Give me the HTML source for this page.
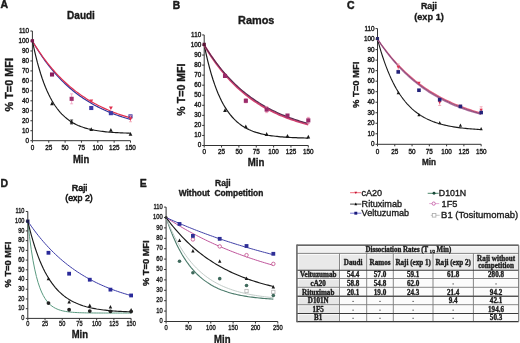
<!DOCTYPE html><html><head><meta charset="utf-8"><style>html,body{margin:0;padding:0;background:#fff;}svg{display:block;filter:blur(0.4px);}text{stroke:#1a1a1a;stroke-linejoin:round;}svg{font-family:"Liberation Sans", sans-serif;}</style></head><body>
<svg width="520" height="343" viewBox="0 0 520 343" stroke-width="0.35">
<rect width="520" height="343" fill="#fff"/>
<text transform="translate(0.5 8.3) scale(0.95 1)" font-size="11" font-weight="bold" text-anchor="start" fill="#1a1a1a" stroke-width="0.5">A</text>
<text transform="translate(172.8 8.5) scale(0.93 1)" font-size="11" font-weight="bold" text-anchor="start" fill="#1a1a1a" stroke-width="0.5">B</text>
<text transform="translate(347 8.5) scale(0.95 1)" font-size="11" font-weight="bold" text-anchor="start" fill="#1a1a1a" stroke-width="0.5">C</text>
<text x="0.4" y="186.8" font-size="10.5" font-weight="bold" text-anchor="start" fill="#1a1a1a">D</text>
<text x="139.7" y="186.8" font-size="10.5" font-weight="bold" text-anchor="start" fill="#1a1a1a">E</text>
<text x="81" y="18.6" font-size="10" font-weight="bold" text-anchor="middle" fill="#1a1a1a">Daudi</text>
<text transform="translate(13.3 84.75) rotate(-90) scale(1.065 1)" font-size="10.2" font-weight="bold" text-anchor="middle" fill="#1a1a1a">% T=0 MFI</text>
<text transform="translate(81.1 162.5) scale(0.91 1)" font-size="10.4" font-weight="bold" text-anchor="middle" fill="#1a1a1a">Min</text>
<path d="M32.4 31.03V140.7M32.4 140.7H130.5M30.4 140.7H32.4M30.4 130.73H32.4M30.4 120.76H32.4M30.4 110.79H32.4M30.4 100.82H32.4M30.4 90.85H32.4M30.4 80.88H32.4M30.4 70.91H32.4M30.4 60.94H32.4M30.4 50.97H32.4M30.4 41H32.4M30.4 31.03H32.4M32.4 140.7V142.7M48.75 140.7V142.7M65.1 140.7V142.7M81.45 140.7V142.7M97.8 140.7V142.7M114.15 140.7V142.7M130.5 140.7V142.7" stroke="#333" stroke-width="1" fill="none"/>
<text transform="translate(29.1 142.64) scale(0.88 1)" font-size="7.2" font-weight="normal" text-anchor="end" fill="#2a2a2a" stroke-width="0.42">0</text>
<text transform="translate(29.1 132.67) scale(0.88 1)" font-size="7.2" font-weight="normal" text-anchor="end" fill="#2a2a2a" stroke-width="0.42">10</text>
<text transform="translate(29.1 122.7) scale(0.88 1)" font-size="7.2" font-weight="normal" text-anchor="end" fill="#2a2a2a" stroke-width="0.42">20</text>
<text transform="translate(29.1 112.73) scale(0.88 1)" font-size="7.2" font-weight="normal" text-anchor="end" fill="#2a2a2a" stroke-width="0.42">30</text>
<text transform="translate(29.1 102.76) scale(0.88 1)" font-size="7.2" font-weight="normal" text-anchor="end" fill="#2a2a2a" stroke-width="0.42">40</text>
<text transform="translate(29.1 92.79) scale(0.88 1)" font-size="7.2" font-weight="normal" text-anchor="end" fill="#2a2a2a" stroke-width="0.42">50</text>
<text transform="translate(29.1 82.82) scale(0.88 1)" font-size="7.2" font-weight="normal" text-anchor="end" fill="#2a2a2a" stroke-width="0.42">60</text>
<text transform="translate(29.1 72.85) scale(0.88 1)" font-size="7.2" font-weight="normal" text-anchor="end" fill="#2a2a2a" stroke-width="0.42">70</text>
<text transform="translate(29.1 62.88) scale(0.88 1)" font-size="7.2" font-weight="normal" text-anchor="end" fill="#2a2a2a" stroke-width="0.42">80</text>
<text transform="translate(29.1 52.91) scale(0.88 1)" font-size="7.2" font-weight="normal" text-anchor="end" fill="#2a2a2a" stroke-width="0.42">90</text>
<text transform="translate(29.1 42.94) scale(0.88 1)" font-size="7.2" font-weight="normal" text-anchor="end" fill="#2a2a2a" stroke-width="0.42">100</text>
<text transform="translate(29.1 32.97) scale(0.88 1)" font-size="7.2" font-weight="normal" text-anchor="end" fill="#2a2a2a" stroke-width="0.42">110</text>
<text transform="translate(32.4 149.9) scale(0.88 1)" font-size="7.2" font-weight="normal" text-anchor="middle" fill="#2a2a2a" stroke-width="0.42">0</text>
<text transform="translate(48.75 149.9) scale(0.88 1)" font-size="7.2" font-weight="normal" text-anchor="middle" fill="#2a2a2a" stroke-width="0.42">25</text>
<text transform="translate(65.1 149.9) scale(0.88 1)" font-size="7.2" font-weight="normal" text-anchor="middle" fill="#2a2a2a" stroke-width="0.42">50</text>
<text transform="translate(81.45 149.9) scale(0.88 1)" font-size="7.2" font-weight="normal" text-anchor="middle" fill="#2a2a2a" stroke-width="0.42">75</text>
<text transform="translate(97.8 149.9) scale(0.88 1)" font-size="7.2" font-weight="normal" text-anchor="middle" fill="#2a2a2a" stroke-width="0.42">100</text>
<text transform="translate(114.15 149.9) scale(0.88 1)" font-size="7.2" font-weight="normal" text-anchor="middle" fill="#2a2a2a" stroke-width="0.42">125</text>
<text transform="translate(130.5 149.9) scale(0.88 1)" font-size="7.2" font-weight="normal" text-anchor="middle" fill="#2a2a2a" stroke-width="0.42">150</text>
<path d="M32.4 41L34.03 43.82L35.67 46.55L37.3 49.19L38.94 51.76L40.58 54.25L42.21 56.67L43.84 59.01L45.48 61.28L47.11 63.49L48.75 65.62L50.38 67.69L52.02 69.7L53.66 71.65L55.29 73.54L56.92 75.37L58.56 77.15L60.2 78.88L61.83 80.55L63.47 82.17L65.1 83.74L66.73 85.27L68.37 86.74L70 88.18L71.64 89.57L73.28 90.92L74.91 92.23L76.55 93.49L78.18 94.72L79.81 95.92L81.45 97.07L83.09 98.2L84.72 99.28L86.36 100.34L87.99 101.36L89.62 102.35L91.26 103.32L92.9 104.25L94.53 105.16L96.16 106.03L97.8 106.89L99.44 107.71L101.07 108.51L102.71 109.29L104.34 110.04L105.97 110.77L107.61 111.48L109.25 112.17L110.88 112.83L112.52 113.48L114.15 114.1L115.78 114.71L117.42 115.3L119.06 115.87L120.69 116.43L122.32 116.96L123.96 117.49L125.59 117.99L127.23 118.48L128.87 118.96L130.5 119.42" stroke="#34349a" stroke-width="1.2" fill="none"/>
<path d="M32.4 41L34.03 43.69L35.67 46.31L37.3 48.85L38.94 51.31L40.58 53.7L42.21 56.03L43.84 58.28L45.48 60.47L47.11 62.6L48.75 64.67L50.38 66.67L52.02 68.62L53.66 70.51L55.29 72.35L56.92 74.13L58.56 75.86L60.2 77.54L61.83 79.17L63.47 80.75L65.1 82.29L66.73 83.79L68.37 85.24L70 86.64L71.64 88.01L73.28 89.34L74.91 90.63L76.55 91.88L78.18 93.09L79.81 94.27L81.45 95.42L83.09 96.53L84.72 97.61L86.36 98.66L87.99 99.68L89.62 100.67L91.26 101.63L92.9 102.56L94.53 103.46L96.16 104.34L97.8 105.2L99.44 106.02L101.07 106.83L102.71 107.61L104.34 108.37L105.97 109.1L107.61 109.82L109.25 110.51L110.88 111.19L112.52 111.84L114.15 112.48L115.78 113.09L117.42 113.69L119.06 114.27L120.69 114.84L122.32 115.39L123.96 115.92L125.59 116.44L127.23 116.94L128.87 117.43L130.5 117.9" stroke="#e0304e" stroke-width="1.2" fill="none"/>
<path d="M32.4 41L34.03 48.66L35.67 55.68L37.3 62.13L38.94 68.04L40.58 73.47L42.21 78.45L43.84 83.01L45.48 87.2L47.11 91.04L48.75 94.57L50.38 97.8L52.02 100.77L53.66 103.49L55.29 105.99L56.92 108.28L58.56 110.38L60.2 112.31L61.83 114.08L63.47 115.7L65.1 117.19L66.73 118.55L68.37 119.81L70 120.96L71.64 122.01L73.28 122.98L74.91 123.87L76.55 124.68L78.18 125.43L79.81 126.11L81.45 126.74L83.09 127.32L84.72 127.85L86.36 128.33L87.99 128.78L89.62 129.18L91.26 129.56L92.9 129.9L94.53 130.22L96.16 130.51L97.8 130.77L99.44 131.02L101.07 131.24L102.71 131.44L104.34 131.63L105.97 131.81L107.61 131.96L109.25 132.11L110.88 132.24L112.52 132.36L114.15 132.48L115.78 132.58L117.42 132.67L119.06 132.76L120.69 132.84L122.32 132.91L123.96 132.98L125.59 133.04L127.23 133.1L128.87 133.15L130.5 133.2" stroke="#1a1a1a" stroke-width="1.15" fill="none"/>
<rect x="89.21" y="105.95" width="4.1" height="4.1" fill="#3c3ca8"/>
<rect x="108.83" y="111.13" width="4.1" height="4.1" fill="#3c3ca8"/>
<rect x="128.45" y="114.32" width="4.1" height="4.1" fill="#3c3ca8"/>
<path d="M91.26 102.77L89.31 99.38L93.21 99.38Z" fill="#e0304e"/>
<path d="M110.88 109.95L108.93 106.56L112.83 106.56Z" fill="#e0304e"/>
<path d="M130.5 115.77V121.76M129 115.77H132M129 121.76H132" stroke="#f0a0b0" stroke-width="0.8" fill="none"/>
<path d="M130.5 120.71L128.55 117.33L132.45 117.33Z" fill="#e0304e"/>
<rect x="49.97" y="72.45" width="4.1" height="4.1" fill="#8a1f5e"/>
<path d="M71.64 93.84V103.81M70.14 93.84H73.14M70.14 103.81H73.14" stroke="#f0a0c0" stroke-width="0.8" fill="none"/>
<rect x="69.59" y="96.78" width="4.1" height="4.1" fill="#a0306e"/>
<path d="M52.02 101.36L50.13 105.15L53.91 105.15Z" fill="#1a1a1a"/>
<path d="M71.64 119.96V123.95M70.14 119.96H73.14M70.14 123.95H73.14" stroke="#1a1a1a" stroke-width="0.8" fill="none"/>
<path d="M71.64 119.8L69.75 123.6L73.53 123.6Z" fill="#1a1a1a"/>
<path d="M91.26 127.18L89.37 130.97L93.15 130.97Z" fill="#1a1a1a"/>
<path d="M110.88 128.08L108.99 131.87L112.77 131.87Z" fill="#1a1a1a"/>
<path d="M130.5 132.07L128.61 135.86L132.39 135.86Z" fill="#1a1a1a"/>
<rect x="30.75" y="39.15" width="3.3" height="3.3" fill="#7a1a4e"/>
<text x="256.2" y="23.5" font-size="10.9" font-weight="bold" text-anchor="middle" fill="#1a1a1a">Ramos</text>
<text transform="translate(185.1 89.6) rotate(-90) scale(1.06 1)" font-size="10.0" font-weight="bold" text-anchor="middle" fill="#1a1a1a">% T=0 MFI</text>
<text transform="translate(256 166.2) scale(0.93 1)" font-size="10.4" font-weight="bold" text-anchor="middle" fill="#1a1a1a">Min</text>
<path d="M204.2 34.95V145.5M204.2 145.5H308.3M202.2 145.5H204.2M202.2 135.45H204.2M202.2 125.4H204.2M202.2 115.35H204.2M202.2 105.3H204.2M202.2 95.25H204.2M202.2 85.2H204.2M202.2 75.15H204.2M202.2 65.1H204.2M202.2 55.05H204.2M202.2 45H204.2M202.2 34.95H204.2M204.2 145.5V147.5M221.55 145.5V147.5M238.9 145.5V147.5M256.25 145.5V147.5M273.6 145.5V147.5M290.95 145.5V147.5M308.3 145.5V147.5" stroke="#333" stroke-width="1" fill="none"/>
<text transform="translate(201.2 147.44) scale(0.88 1)" font-size="7.2" font-weight="normal" text-anchor="end" fill="#2a2a2a" stroke-width="0.42">0</text>
<text transform="translate(201.2 137.39) scale(0.88 1)" font-size="7.2" font-weight="normal" text-anchor="end" fill="#2a2a2a" stroke-width="0.42">10</text>
<text transform="translate(201.2 127.34) scale(0.88 1)" font-size="7.2" font-weight="normal" text-anchor="end" fill="#2a2a2a" stroke-width="0.42">20</text>
<text transform="translate(201.2 117.29) scale(0.88 1)" font-size="7.2" font-weight="normal" text-anchor="end" fill="#2a2a2a" stroke-width="0.42">30</text>
<text transform="translate(201.2 107.24) scale(0.88 1)" font-size="7.2" font-weight="normal" text-anchor="end" fill="#2a2a2a" stroke-width="0.42">40</text>
<text transform="translate(201.2 97.19) scale(0.88 1)" font-size="7.2" font-weight="normal" text-anchor="end" fill="#2a2a2a" stroke-width="0.42">50</text>
<text transform="translate(201.2 87.14) scale(0.88 1)" font-size="7.2" font-weight="normal" text-anchor="end" fill="#2a2a2a" stroke-width="0.42">60</text>
<text transform="translate(201.2 77.09) scale(0.88 1)" font-size="7.2" font-weight="normal" text-anchor="end" fill="#2a2a2a" stroke-width="0.42">70</text>
<text transform="translate(201.2 67.04) scale(0.88 1)" font-size="7.2" font-weight="normal" text-anchor="end" fill="#2a2a2a" stroke-width="0.42">80</text>
<text transform="translate(201.2 56.99) scale(0.88 1)" font-size="7.2" font-weight="normal" text-anchor="end" fill="#2a2a2a" stroke-width="0.42">90</text>
<text transform="translate(201.2 46.94) scale(0.88 1)" font-size="7.2" font-weight="normal" text-anchor="end" fill="#2a2a2a" stroke-width="0.42">100</text>
<text transform="translate(201.2 36.89) scale(0.88 1)" font-size="7.2" font-weight="normal" text-anchor="end" fill="#2a2a2a" stroke-width="0.42">110</text>
<text transform="translate(204.2 153.8) scale(0.88 1)" font-size="7.2" font-weight="normal" text-anchor="middle" fill="#2a2a2a" stroke-width="0.42">0</text>
<text transform="translate(221.55 153.8) scale(0.88 1)" font-size="7.2" font-weight="normal" text-anchor="middle" fill="#2a2a2a" stroke-width="0.42">25</text>
<text transform="translate(238.9 153.8) scale(0.88 1)" font-size="7.2" font-weight="normal" text-anchor="middle" fill="#2a2a2a" stroke-width="0.42">50</text>
<text transform="translate(256.25 153.8) scale(0.88 1)" font-size="7.2" font-weight="normal" text-anchor="middle" fill="#2a2a2a" stroke-width="0.42">75</text>
<text transform="translate(273.6 153.8) scale(0.88 1)" font-size="7.2" font-weight="normal" text-anchor="middle" fill="#2a2a2a" stroke-width="0.42">100</text>
<text transform="translate(290.95 153.8) scale(0.88 1)" font-size="7.2" font-weight="normal" text-anchor="middle" fill="#2a2a2a" stroke-width="0.42">125</text>
<text transform="translate(308.3 153.8) scale(0.88 1)" font-size="7.2" font-weight="normal" text-anchor="middle" fill="#2a2a2a" stroke-width="0.42">150</text>
<path d="M204.2 45L205.94 53.15L207.67 60.58L209.41 67.37L211.14 73.57L212.88 79.23L214.61 84.39L216.34 89.1L218.08 93.41L219.81 97.33L221.55 100.92L223.28 104.19L225.02 107.18L226.75 109.91L228.49 112.4L230.22 114.67L231.96 116.74L233.69 118.64L235.43 120.36L237.16 121.94L238.9 123.38L240.63 124.7L242.37 125.9L244.1 126.99L245.84 127.99L247.57 128.91L249.31 129.74L251.04 130.5L252.78 131.19L254.51 131.83L256.25 132.41L257.99 132.93L259.72 133.42L261.45 133.86L263.19 134.26L264.92 134.63L266.66 134.96L268.39 135.27L270.13 135.54L271.87 135.8L273.6 136.03L275.33 136.24L277.07 136.44L278.8 136.61L280.54 136.78L282.27 136.92L284.01 137.06L285.75 137.18L287.48 137.29L289.21 137.39L290.95 137.49L292.69 137.57L294.42 137.65L296.15 137.72L297.89 137.79L299.62 137.85L301.36 137.9L303.09 137.95L304.83 137.99L306.56 138.03L308.3 138.07" stroke="#1a1a1a" stroke-width="1.2" fill="none"/>
<path d="M204.2 45L205.94 47.91L207.67 50.73L209.41 53.46L211.14 56.1L212.88 58.67L214.61 61.15L216.34 63.56L218.08 65.89L219.81 68.15L221.55 70.34L223.28 72.46L225.02 74.51L226.75 76.5L228.49 78.43L230.22 80.3L231.96 82.11L233.69 83.87L235.43 85.57L237.16 87.21L238.9 88.81L240.63 90.35L242.37 91.85L244.1 93.3L245.84 94.71L247.57 96.07L249.31 97.39L251.04 98.67L252.78 99.91L254.51 101.11L256.25 102.27L257.99 103.4L259.72 104.49L261.45 105.55L263.19 106.57L264.92 107.56L266.66 108.52L268.39 109.46L270.13 110.36L271.87 111.23L273.6 112.08L275.33 112.9L277.07 113.7L278.8 114.47L280.54 115.22L282.27 115.94L284.01 116.64L285.75 117.32L287.48 117.98L289.21 118.62L290.95 119.23L292.69 119.83L294.42 120.41L296.15 120.97L297.89 121.52L299.62 122.05L301.36 122.56L303.09 123.05L304.83 123.53L306.56 124L308.3 124.45" stroke="#d04070" stroke-width="2.0" fill="none"/>
<path d="M204.2 45L205.94 47.8L207.67 50.51L209.41 53.15L211.14 55.7L212.88 58.18L214.61 60.58L216.34 62.92L218.08 65.18L219.81 67.37L221.55 69.5L223.28 71.57L225.02 73.57L226.75 75.51L228.49 77.4L230.22 79.23L231.96 81L233.69 82.72L235.43 84.39L237.16 86.01L238.9 87.58L240.63 89.1L242.37 90.58L244.1 92.02L245.84 93.41L247.57 94.76L249.31 96.06L251.04 97.33L252.78 98.57L254.51 99.76L256.25 100.92L257.99 102.04L259.72 103.13L261.45 104.19L263.19 105.22L264.92 106.21L266.66 107.18L268.39 108.12L270.13 109.03L271.87 109.91L273.6 110.76L275.33 111.59L277.07 112.4L278.8 113.18L280.54 113.93L282.27 114.67L284.01 115.38L285.75 116.07L287.48 116.74L289.21 117.39L290.95 118.02L292.69 118.64L294.42 119.23L296.15 119.81L297.89 120.36L299.62 120.91L301.36 121.43L303.09 121.94L304.83 122.44L306.56 122.92L308.3 123.38" stroke="#5a2a50" stroke-width="1.1" fill="none"/>
<path d="M225.02 108.17L223.13 111.97L226.91 111.97Z" fill="#1a1a1a"/>
<path d="M245.84 124.45L243.95 128.25L247.73 128.25Z" fill="#1a1a1a"/>
<path d="M266.66 132.09L264.77 135.88L268.55 135.88Z" fill="#1a1a1a"/>
<path d="M287.48 133.9L285.59 137.69L289.37 137.69Z" fill="#1a1a1a"/>
<path d="M308.3 134.81L306.41 138.6L310.19 138.6Z" fill="#1a1a1a"/>
<rect x="222.97" y="73.9" width="4.1" height="4.1" fill="#9a2a6a"/>
<path d="M245.84 98.77V102.79M244.34 98.77H247.34M244.34 102.79H247.34" stroke="#f090b0" stroke-width="0.8" fill="none"/>
<rect x="243.79" y="98.73" width="4.1" height="4.1" fill="#9a2a6a"/>
<path d="M266.66 106.61V112.64M265.16 106.61H268.16M265.16 112.64H268.16" stroke="#f090b0" stroke-width="0.8" fill="none"/>
<rect x="264.61" y="107.57" width="4.1" height="4.1" fill="#9a2a6a"/>
<rect x="285.43" y="113.5" width="4.1" height="4.1" fill="#9a2a6a"/>
<path d="M308.3 117.36V123.39M306.8 117.36H309.8M306.8 123.39H309.8" stroke="#f090b0" stroke-width="0.8" fill="none"/>
<rect x="306.25" y="118.33" width="4.1" height="4.1" fill="#9a2a6a"/>
<rect x="202.55" y="42.75" width="3.3" height="3.3" fill="#5a1536"/>
<text x="429" y="8.7" font-size="8.8" font-weight="bold" text-anchor="middle" fill="#1a1a1a">Raji</text>
<text x="429" y="19.9" font-size="9.2" font-weight="bold" text-anchor="middle" fill="#1a1a1a">(exp 1)</text>
<text transform="translate(358.9 84.85) rotate(-90) scale(1.03 1)" font-size="9.2" font-weight="bold" text-anchor="middle" fill="#1a1a1a">% T=0 MFI</text>
<text transform="translate(429 165) scale(0.92 1)" font-size="8.9" font-weight="bold" text-anchor="middle" fill="#1a1a1a">Min</text>
<path d="M377.5 28.58V144.3M377.5 144.3H481.15M375.5 144.3H377.5M375.5 133.78H377.5M375.5 123.26H377.5M375.5 112.74H377.5M375.5 102.22H377.5M375.5 91.7H377.5M375.5 81.18H377.5M375.5 70.66H377.5M375.5 60.14H377.5M375.5 49.62H377.5M375.5 39.1H377.5M375.5 28.58H377.5M377.5 144.3V146.3M394.77 144.3V146.3M412.05 144.3V146.3M429.32 144.3V146.3M446.6 144.3V146.3M463.88 144.3V146.3M481.15 144.3V146.3" stroke="#333" stroke-width="1" fill="none"/>
<text transform="translate(374.5 146.24) scale(0.88 1)" font-size="7.2" font-weight="normal" text-anchor="end" fill="#2a2a2a" stroke-width="0.42">0</text>
<text transform="translate(374.5 135.72) scale(0.88 1)" font-size="7.2" font-weight="normal" text-anchor="end" fill="#2a2a2a" stroke-width="0.42">10</text>
<text transform="translate(374.5 125.2) scale(0.88 1)" font-size="7.2" font-weight="normal" text-anchor="end" fill="#2a2a2a" stroke-width="0.42">20</text>
<text transform="translate(374.5 114.68) scale(0.88 1)" font-size="7.2" font-weight="normal" text-anchor="end" fill="#2a2a2a" stroke-width="0.42">30</text>
<text transform="translate(374.5 104.16) scale(0.88 1)" font-size="7.2" font-weight="normal" text-anchor="end" fill="#2a2a2a" stroke-width="0.42">40</text>
<text transform="translate(374.5 93.64) scale(0.88 1)" font-size="7.2" font-weight="normal" text-anchor="end" fill="#2a2a2a" stroke-width="0.42">50</text>
<text transform="translate(374.5 83.12) scale(0.88 1)" font-size="7.2" font-weight="normal" text-anchor="end" fill="#2a2a2a" stroke-width="0.42">60</text>
<text transform="translate(374.5 72.6) scale(0.88 1)" font-size="7.2" font-weight="normal" text-anchor="end" fill="#2a2a2a" stroke-width="0.42">70</text>
<text transform="translate(374.5 62.08) scale(0.88 1)" font-size="7.2" font-weight="normal" text-anchor="end" fill="#2a2a2a" stroke-width="0.42">80</text>
<text transform="translate(374.5 51.56) scale(0.88 1)" font-size="7.2" font-weight="normal" text-anchor="end" fill="#2a2a2a" stroke-width="0.42">90</text>
<text transform="translate(374.5 41.04) scale(0.88 1)" font-size="7.2" font-weight="normal" text-anchor="end" fill="#2a2a2a" stroke-width="0.42">100</text>
<text transform="translate(374.5 30.52) scale(0.88 1)" font-size="7.2" font-weight="normal" text-anchor="end" fill="#2a2a2a" stroke-width="0.42">110</text>
<text transform="translate(377.5 153.5) scale(0.88 1)" font-size="7.2" font-weight="normal" text-anchor="middle" fill="#2a2a2a" stroke-width="0.42">0</text>
<text transform="translate(394.77 153.5) scale(0.88 1)" font-size="7.2" font-weight="normal" text-anchor="middle" fill="#2a2a2a" stroke-width="0.42">25</text>
<text transform="translate(412.05 153.5) scale(0.88 1)" font-size="7.2" font-weight="normal" text-anchor="middle" fill="#2a2a2a" stroke-width="0.42">50</text>
<text transform="translate(429.32 153.5) scale(0.88 1)" font-size="7.2" font-weight="normal" text-anchor="middle" fill="#2a2a2a" stroke-width="0.42">75</text>
<text transform="translate(446.6 153.5) scale(0.88 1)" font-size="7.2" font-weight="normal" text-anchor="middle" fill="#2a2a2a" stroke-width="0.42">100</text>
<text transform="translate(463.88 153.5) scale(0.88 1)" font-size="7.2" font-weight="normal" text-anchor="middle" fill="#2a2a2a" stroke-width="0.42">125</text>
<text transform="translate(481.15 153.5) scale(0.88 1)" font-size="7.2" font-weight="normal" text-anchor="middle" fill="#2a2a2a" stroke-width="0.42">150</text>
<path d="M377.5 39.1L379.23 45.41L380.95 51.29L382.68 56.77L384.41 61.87L386.14 66.61L387.87 71.03L389.59 75.15L391.32 78.98L393.05 82.55L394.77 85.87L396.5 88.97L398.23 91.85L399.96 94.53L401.69 97.03L403.41 99.36L405.14 101.52L406.87 103.54L408.6 105.42L410.32 107.17L412.05 108.8L413.78 110.32L415.5 111.73L417.23 113.04L418.96 114.27L420.69 115.41L422.42 116.47L424.14 117.46L425.87 118.38L427.6 119.24L429.32 120.03L431.05 120.78L432.78 121.47L434.51 122.11L436.24 122.71L437.96 123.27L439.69 123.79L441.42 124.28L443.14 124.73L444.87 125.15L446.6 125.54L448.33 125.91L450.06 126.24L451.78 126.56L453.51 126.85L455.24 127.13L456.96 127.38L458.69 127.62L460.42 127.84L462.15 128.05L463.88 128.24L465.6 128.42L467.33 128.58L469.06 128.74L470.78 128.88L472.51 129.02L474.24 129.14L475.97 129.26L477.69 129.37L479.42 129.47L481.15 129.56" stroke="#1a1a1a" stroke-width="1.1" fill="none"/>
<path d="M377.5 39.1L379.23 41.61L380.95 44.05L382.68 46.42L384.41 48.73L386.14 50.97L387.87 53.15L389.59 55.27L391.32 57.33L393.05 59.34L394.77 61.29L396.5 63.19L398.23 65.03L399.96 66.82L401.69 68.57L403.41 70.26L405.14 71.91L406.87 73.52L408.6 75.08L410.32 76.59L412.05 78.07L413.78 79.5L415.5 80.9L417.23 82.25L418.96 83.57L420.69 84.85L422.42 86.1L424.14 87.31L425.87 88.49L427.6 89.64L429.32 90.75L431.05 91.84L432.78 92.89L434.51 93.92L436.24 94.92L437.96 95.89L439.69 96.83L441.42 97.75L443.14 98.64L444.87 99.5L446.6 100.35L448.33 101.17L450.06 101.96L451.78 102.74L453.51 103.49L455.24 104.23L456.96 104.94L458.69 105.63L460.42 106.31L462.15 106.96L463.88 107.6L465.6 108.22L467.33 108.82L469.06 109.41L470.78 109.98L472.51 110.54L474.24 111.07L475.97 111.6L477.69 112.11L479.42 112.6L481.15 113.09" stroke="#e06080" stroke-width="1.3" fill="none"/>
<path d="M377.5 39.1L379.23 41.73L380.95 44.28L382.68 46.76L384.41 49.17L386.14 51.51L387.87 53.78L389.59 55.99L391.32 58.13L393.05 60.21L394.77 62.23L396.5 64.19L398.23 66.09L399.96 67.94L401.69 69.74L403.41 71.48L405.14 73.17L406.87 74.82L408.6 76.42L410.32 77.97L412.05 79.47L413.78 80.94L415.5 82.36L417.23 83.74L418.96 85.08L420.69 86.38L422.42 87.64L424.14 88.87L425.87 90.06L427.6 91.22L429.32 92.34L431.05 93.43L432.78 94.49L434.51 95.52L436.24 96.52L437.96 97.49L439.69 98.43L441.42 99.35L443.14 100.23L444.87 101.1L446.6 101.94L448.33 102.75L450.06 103.54L451.78 104.31L453.51 105.05L455.24 105.78L456.96 106.48L458.69 107.16L460.42 107.82L462.15 108.47L463.88 109.09L465.6 109.7L467.33 110.29L469.06 110.86L470.78 111.42L472.51 111.96L474.24 112.48L475.97 112.99L477.69 113.48L479.42 113.96L481.15 114.43" stroke="#b070a0" stroke-width="1.3" fill="none"/>
<path d="M377.5 39.1L379.23 41.67L380.95 44.17L382.68 46.59L384.41 48.95L386.14 51.24L387.87 53.47L389.59 55.63L391.32 57.73L393.05 59.78L394.77 61.76L396.5 63.69L398.23 65.57L399.96 67.39L401.69 69.16L403.41 70.88L405.14 72.55L406.87 74.18L408.6 75.76L410.32 77.29L412.05 78.78L413.78 80.23L415.5 81.64L417.23 83.01L418.96 84.34L420.69 85.63L422.42 86.89L424.14 88.11L425.87 89.29L427.6 90.44L429.32 91.56L431.05 92.65L432.78 93.71L434.51 94.74L436.24 95.73L437.96 96.7L439.69 97.65L441.42 98.56L443.14 99.45L444.87 100.32L446.6 101.16L448.33 101.98L450.06 102.77L451.78 103.54L453.51 104.29L455.24 105.02L456.96 105.73L458.69 106.42L460.42 107.09L462.15 107.74L463.88 108.37L465.6 108.98L467.33 109.58L469.06 110.16L470.78 110.72L472.51 111.27L474.24 111.8L475.97 112.32L477.69 112.82L479.42 113.31L481.15 113.78" stroke="#7a3a68" stroke-width="0.8" fill="none"/>
<path d="M398.23 90.91L396.62 94.15L399.84 94.15Z" fill="#1a1a1a"/>
<path d="M418.96 113.11L417.35 116.35L420.57 116.35Z" fill="#1a1a1a"/>
<path d="M439.69 120.9L438.08 124.13L441.3 124.13Z" fill="#1a1a1a"/>
<path d="M460.42 123.53L458.81 126.76L462.03 126.76Z" fill="#1a1a1a"/>
<path d="M481.15 127L479.54 130.24L482.76 130.24Z" fill="#1a1a1a"/>
<path d="M398.23 63.93V70.24M396.73 63.93H399.73M396.73 70.24H399.73" stroke="#f0a0b0" stroke-width="0.8" fill="none"/>
<path d="M398.23 68.79L396.52 65.82L399.94 65.82Z" fill="#e0304e"/>
<path d="M418.96 84.68L417.25 81.71L420.67 81.71Z" fill="#e0304e"/>
<path d="M439.69 99.17V105.48M438.19 99.17H441.19M438.19 105.48H441.19" stroke="#f0a0b0" stroke-width="0.8" fill="none"/>
<path d="M439.69 104.04L437.98 101.07L441.4 101.07Z" fill="#e0304e"/>
<path d="M460.42 107.61L458.71 104.64L462.13 104.64Z" fill="#e0304e"/>
<path d="M481.15 106.74V113.06M479.65 106.74H482.65M479.65 113.06H482.65" stroke="#f0a0b0" stroke-width="0.8" fill="none"/>
<path d="M481.15 111.61L479.44 108.64L482.86 108.64Z" fill="#e0304e"/>
<rect x="396.43" y="70.12" width="3.6" height="3.6" fill="#22227a"/>
<rect x="417.16" y="88.43" width="3.6" height="3.6" fill="#22227a"/>
<rect x="437.89" y="97.9" width="3.6" height="3.6" fill="#22227a"/>
<rect x="458.62" y="104.63" width="3.6" height="3.6" fill="#22227a"/>
<rect x="479.35" y="110.73" width="3.6" height="3.6" fill="#22227a"/>
<rect x="375.95" y="37.02" width="3.1" height="3.1" fill="#2a2a6a"/>
<text x="79.4" y="190.6" font-size="9.0" font-weight="normal" text-anchor="middle" fill="#1a1a1a" stroke-width="0.6">Raji</text>
<text x="79" y="200.6" font-size="8.9" font-weight="normal" text-anchor="middle" fill="#1a1a1a" stroke-width="0.6">(exp 2)</text>
<text transform="translate(10.8 264.6) rotate(-90) scale(1.0 1)" font-size="9.3" font-weight="bold" text-anchor="middle" fill="#1a1a1a">% T=0 MFI</text>
<text transform="translate(79.8 338.4) scale(0.92 1)" font-size="10.3" font-weight="bold" text-anchor="middle" fill="#1a1a1a">Min</text>
<path d="M27.8 211.48V318.4M27.8 318.4H131.1M25.8 318.4H27.8M25.8 308.68H27.8M25.8 298.96H27.8M25.8 289.24H27.8M25.8 279.52H27.8M25.8 269.8H27.8M25.8 260.08H27.8M25.8 250.36H27.8M25.8 240.64H27.8M25.8 230.92H27.8M25.8 221.2H27.8M25.8 211.48H27.8M27.8 318.4V320.4M45.02 318.4V320.4M62.23 318.4V320.4M79.45 318.4V320.4M96.67 318.4V320.4M113.89 318.4V320.4M131.1 318.4V320.4" stroke="#333" stroke-width="1" fill="none"/>
<text transform="translate(24.4 320.13) scale(0.88 1)" font-size="6.4" font-weight="normal" text-anchor="end" fill="#2a2a2a" stroke-width="0.35">0</text>
<text transform="translate(24.4 310.41) scale(0.88 1)" font-size="6.4" font-weight="normal" text-anchor="end" fill="#2a2a2a" stroke-width="0.35">10</text>
<text transform="translate(24.4 300.69) scale(0.88 1)" font-size="6.4" font-weight="normal" text-anchor="end" fill="#2a2a2a" stroke-width="0.35">20</text>
<text transform="translate(24.4 290.97) scale(0.88 1)" font-size="6.4" font-weight="normal" text-anchor="end" fill="#2a2a2a" stroke-width="0.35">30</text>
<text transform="translate(24.4 281.25) scale(0.88 1)" font-size="6.4" font-weight="normal" text-anchor="end" fill="#2a2a2a" stroke-width="0.35">40</text>
<text transform="translate(24.4 271.53) scale(0.88 1)" font-size="6.4" font-weight="normal" text-anchor="end" fill="#2a2a2a" stroke-width="0.35">50</text>
<text transform="translate(24.4 261.81) scale(0.88 1)" font-size="6.4" font-weight="normal" text-anchor="end" fill="#2a2a2a" stroke-width="0.35">60</text>
<text transform="translate(24.4 252.09) scale(0.88 1)" font-size="6.4" font-weight="normal" text-anchor="end" fill="#2a2a2a" stroke-width="0.35">70</text>
<text transform="translate(24.4 242.37) scale(0.88 1)" font-size="6.4" font-weight="normal" text-anchor="end" fill="#2a2a2a" stroke-width="0.35">80</text>
<text transform="translate(24.4 232.65) scale(0.88 1)" font-size="6.4" font-weight="normal" text-anchor="end" fill="#2a2a2a" stroke-width="0.35">90</text>
<text transform="translate(24.4 222.93) scale(0.88 1)" font-size="6.4" font-weight="normal" text-anchor="end" fill="#2a2a2a" stroke-width="0.35">100</text>
<text transform="translate(24.4 213.21) scale(0.88 1)" font-size="6.4" font-weight="normal" text-anchor="end" fill="#2a2a2a" stroke-width="0.35">110</text>
<text transform="translate(27.8 326.4) scale(0.88 1)" font-size="6.4" font-weight="normal" text-anchor="middle" fill="#2a2a2a" stroke-width="0.35">0</text>
<text transform="translate(45.02 326.4) scale(0.88 1)" font-size="6.4" font-weight="normal" text-anchor="middle" fill="#2a2a2a" stroke-width="0.35">25</text>
<text transform="translate(62.23 326.4) scale(0.88 1)" font-size="6.4" font-weight="normal" text-anchor="middle" fill="#2a2a2a" stroke-width="0.35">50</text>
<text transform="translate(79.45 326.4) scale(0.88 1)" font-size="6.4" font-weight="normal" text-anchor="middle" fill="#2a2a2a" stroke-width="0.35">75</text>
<text transform="translate(96.67 326.4) scale(0.88 1)" font-size="6.4" font-weight="normal" text-anchor="middle" fill="#2a2a2a" stroke-width="0.35">100</text>
<text transform="translate(113.89 326.4) scale(0.88 1)" font-size="6.4" font-weight="normal" text-anchor="middle" fill="#2a2a2a" stroke-width="0.35">125</text>
<text transform="translate(131.1 326.4) scale(0.88 1)" font-size="6.4" font-weight="normal" text-anchor="middle" fill="#2a2a2a" stroke-width="0.35">150</text>
<path d="M27.8 221.2L29.52 236.66L31.24 249.52L32.97 260.22L34.69 269.11L36.41 276.51L38.13 282.66L39.85 287.78L41.57 292.04L43.3 295.57L45.02 298.52L46.74 300.96L48.46 303L50.18 304.69L51.9 306.1L53.63 307.27L55.35 308.24L57.07 309.05L58.79 309.73L60.51 310.29L62.23 310.75L63.96 311.14L65.68 311.46L67.4 311.73L69.12 311.95L70.84 312.14L72.57 312.29L74.29 312.42L76.01 312.53L77.73 312.62L79.45 312.69L81.17 312.75L82.9 312.8L84.62 312.84L86.34 312.88L88.06 312.91L89.78 312.93L91.5 312.95L93.23 312.97L94.95 312.98L96.67 313L98.39 313.01L100.11 313.01L101.84 313.02L103.56 313.03L105.28 313.03L107 313.03L108.72 313.04L110.44 313.04L112.17 313.04L113.89 313.04L115.61 313.05L117.33 313.05L119.05 313.05L120.77 313.05L122.5 313.05L124.22 313.05L125.94 313.05L127.66 313.05L129.38 313.05L131.1 313.05" stroke="#5a9a80" stroke-width="1.0" fill="none"/>
<path d="M27.8 221.2L29.52 228.31L31.24 234.86L32.97 240.91L34.69 246.48L36.41 251.62L38.13 256.36L39.85 260.73L41.57 264.76L43.3 268.48L45.02 271.91L46.74 275.07L48.46 277.99L50.18 280.68L51.9 283.16L53.63 285.45L55.35 287.56L57.07 289.5L58.79 291.3L60.51 292.95L62.23 294.48L63.96 295.88L65.68 297.18L67.4 298.38L69.12 299.48L70.84 300.5L72.57 301.44L74.29 302.3L76.01 303.1L77.73 303.84L79.45 304.52L81.17 305.14L82.9 305.72L84.62 306.25L86.34 306.75L88.06 307.2L89.78 307.62L91.5 308L93.23 308.36L94.95 308.68L96.67 308.99L98.39 309.26L100.11 309.52L101.84 309.76L103.56 309.98L105.28 310.18L107 310.36L108.72 310.54L110.44 310.69L112.17 310.84L113.89 310.97L115.61 311.1L117.33 311.21L119.05 311.32L120.77 311.42L122.5 311.5L124.22 311.59L125.94 311.66L127.66 311.73L129.38 311.8L131.1 311.86" stroke="#1a1a1a" stroke-width="1.15" fill="none"/>
<path d="M27.8 221.2L29.52 223.73L31.24 226.18L32.97 228.57L34.69 230.89L36.41 233.15L38.13 235.35L39.85 237.48L41.57 239.56L43.3 241.58L45.02 243.54L46.74 245.45L48.46 247.31L50.18 249.11L51.9 250.86L53.63 252.57L55.35 254.23L57.07 255.84L58.79 257.41L60.51 258.94L62.23 260.42L63.96 261.86L65.68 263.26L67.4 264.63L69.12 265.95L70.84 267.24L72.57 268.49L74.29 269.71L76.01 270.9L77.73 272.05L79.45 273.17L81.17 274.26L82.9 275.32L84.62 276.35L86.34 277.35L88.06 278.32L89.78 279.27L91.5 280.19L93.23 281.09L94.95 281.96L96.67 282.8L98.39 283.63L100.11 284.43L101.84 285.21L103.56 285.96L105.28 286.7L107 287.41L108.72 288.11L110.44 288.78L112.17 289.44L113.89 290.08L115.61 290.7L117.33 291.31L119.05 291.9L120.77 292.47L122.5 293.02L124.22 293.56L125.94 294.09L127.66 294.6L129.38 295.1L131.1 295.58" stroke="#3c3ca8" stroke-width="1.0" fill="none"/>
<rect x="46.56" y="250.89" width="3.8" height="3.8" fill="#2a2a9a"/>
<rect x="67.22" y="271.79" width="3.8" height="3.8" fill="#2a2a9a"/>
<rect x="87.88" y="277.81" width="3.8" height="3.8" fill="#2a2a9a"/>
<rect x="108.54" y="287.73" width="3.8" height="3.8" fill="#2a2a9a"/>
<rect x="129.2" y="293.56" width="3.8" height="3.8" fill="#2a2a9a"/>
<path d="M48.46 276.75L46.71 280.26L50.21 280.26Z" fill="#1a1a1a"/>
<path d="M69.12 300.08L67.37 303.59L70.87 303.59Z" fill="#1a1a1a"/>
<path d="M89.78 303.48L88.03 306.99L91.53 306.99Z" fill="#1a1a1a"/>
<path d="M110.44 304.94L108.7 308.45L112.19 308.45Z" fill="#1a1a1a"/>
<path d="M131.1 308.05L129.36 311.56L132.85 311.56Z" fill="#1a1a1a"/>
<circle cx="48.46" cy="303.04" r="1.9" fill="#222"/>
<circle cx="69.12" cy="309.75" r="1.9" fill="#222"/>
<circle cx="89.78" cy="311.11" r="1.9" fill="#222"/>
<circle cx="110.44" cy="311.3" r="1.9" fill="#222"/>
<circle cx="131.1" cy="311.6" r="1.9" fill="#222"/>
<rect x="26.15" y="219.55" width="3.3" height="3.3" fill="#1a1a4a"/>
<text x="222.9" y="186.2" font-size="8.5" font-weight="bold" text-anchor="middle" fill="#1a1a1a">Raji</text>
<text x="221" y="195.8" font-size="8.4" font-weight="bold" text-anchor="middle" fill="#1a1a1a">Without&#160;&#160;Competition</text>
<text transform="translate(148.5 263.2) rotate(-90) scale(1.02 1)" font-size="9.1" font-weight="bold" text-anchor="middle" fill="#1a1a1a">% T=0 MFI</text>
<text transform="translate(222.3 343.2) scale(0.9 1)" font-size="10.6" font-weight="bold" text-anchor="middle" fill="#1a1a1a">Min</text>
<path d="M166.1 207.1V321.5M166.1 321.5H277.8M164.1 321.5H166.1M164.1 311.1H166.1M164.1 300.7H166.1M164.1 290.3H166.1M164.1 279.9H166.1M164.1 269.5H166.1M164.1 259.1H166.1M164.1 248.7H166.1M164.1 238.3H166.1M164.1 227.9H166.1M164.1 217.5H166.1M164.1 207.1H166.1M166.1 321.5V323.5M188.44 321.5V323.5M210.78 321.5V323.5M233.12 321.5V323.5M255.46 321.5V323.5M277.8 321.5V323.5" stroke="#333" stroke-width="1" fill="none"/>
<text transform="translate(162.8 323.28) scale(0.88 1)" font-size="6.6" font-weight="normal" text-anchor="end" fill="#2a2a2a" stroke-width="0.35">0</text>
<text transform="translate(162.8 312.88) scale(0.88 1)" font-size="6.6" font-weight="normal" text-anchor="end" fill="#2a2a2a" stroke-width="0.35">10</text>
<text transform="translate(162.8 302.48) scale(0.88 1)" font-size="6.6" font-weight="normal" text-anchor="end" fill="#2a2a2a" stroke-width="0.35">20</text>
<text transform="translate(162.8 292.08) scale(0.88 1)" font-size="6.6" font-weight="normal" text-anchor="end" fill="#2a2a2a" stroke-width="0.35">30</text>
<text transform="translate(162.8 281.68) scale(0.88 1)" font-size="6.6" font-weight="normal" text-anchor="end" fill="#2a2a2a" stroke-width="0.35">40</text>
<text transform="translate(162.8 271.28) scale(0.88 1)" font-size="6.6" font-weight="normal" text-anchor="end" fill="#2a2a2a" stroke-width="0.35">50</text>
<text transform="translate(162.8 260.88) scale(0.88 1)" font-size="6.6" font-weight="normal" text-anchor="end" fill="#2a2a2a" stroke-width="0.35">60</text>
<text transform="translate(162.8 250.48) scale(0.88 1)" font-size="6.6" font-weight="normal" text-anchor="end" fill="#2a2a2a" stroke-width="0.35">70</text>
<text transform="translate(162.8 240.08) scale(0.88 1)" font-size="6.6" font-weight="normal" text-anchor="end" fill="#2a2a2a" stroke-width="0.35">80</text>
<text transform="translate(162.8 229.68) scale(0.88 1)" font-size="6.6" font-weight="normal" text-anchor="end" fill="#2a2a2a" stroke-width="0.35">90</text>
<text transform="translate(162.8 219.28) scale(0.88 1)" font-size="6.6" font-weight="normal" text-anchor="end" fill="#2a2a2a" stroke-width="0.35">100</text>
<text transform="translate(162.8 208.88) scale(0.88 1)" font-size="6.6" font-weight="normal" text-anchor="end" fill="#2a2a2a" stroke-width="0.35">110</text>
<text transform="translate(166.1 329.9) scale(0.88 1)" font-size="6.6" font-weight="normal" text-anchor="middle" fill="#2a2a2a" stroke-width="0.35">0</text>
<text transform="translate(188.44 329.9) scale(0.88 1)" font-size="6.6" font-weight="normal" text-anchor="middle" fill="#2a2a2a" stroke-width="0.35">50</text>
<text transform="translate(210.78 329.9) scale(0.88 1)" font-size="6.6" font-weight="normal" text-anchor="middle" fill="#2a2a2a" stroke-width="0.35">100</text>
<text transform="translate(233.12 329.9) scale(0.88 1)" font-size="6.6" font-weight="normal" text-anchor="middle" fill="#2a2a2a" stroke-width="0.35">150</text>
<text transform="translate(255.46 329.9) scale(0.88 1)" font-size="6.6" font-weight="normal" text-anchor="middle" fill="#2a2a2a" stroke-width="0.35">200</text>
<text transform="translate(277.8 329.9) scale(0.88 1)" font-size="6.6" font-weight="normal" text-anchor="middle" fill="#2a2a2a" stroke-width="0.35">250</text>
<path d="M166.1 217.5L167.89 222.8L169.67 227.77L171.46 232.42L173.25 236.77L175.04 240.84L176.82 244.66L178.61 248.23L180.4 251.57L182.18 254.71L183.97 257.64L185.76 260.38L187.55 262.95L189.33 265.36L191.12 267.61L192.91 269.72L194.7 271.69L196.48 273.54L198.27 275.27L200.06 276.89L201.84 278.41L203.63 279.83L205.42 281.16L207.21 282.41L208.99 283.57L210.78 284.66L212.57 285.69L214.35 286.64L216.14 287.54L217.93 288.38L219.72 289.16L221.5 289.9L223.29 290.59L225.08 291.23L226.86 291.84L228.65 292.4L230.44 292.93L232.23 293.42L234.01 293.89L235.8 294.32L237.59 294.73L239.38 295.11L241.16 295.47L242.95 295.8L244.74 296.11L246.52 296.4L248.31 296.68L250.1 296.93L251.89 297.17L253.67 297.4L255.46 297.61L257.25 297.81L259.03 297.99L260.82 298.16L262.61 298.33L264.4 298.48L266.18 298.62L267.97 298.75L269.76 298.88L271.54 298.99L273.33 299.1" stroke="#4a7a6a" stroke-width="1.1" fill="none"/>
<path d="M166.1 217.5L167.89 221.96L169.67 226.18L171.46 230.18L173.25 233.96L175.04 237.54L176.82 240.93L178.61 244.13L180.4 247.17L182.18 250.04L183.97 252.76L185.76 255.33L187.55 257.76L189.33 260.06L191.12 262.24L192.91 264.3L194.7 266.26L196.48 268.1L198.27 269.85L200.06 271.51L201.84 273.07L203.63 274.55L205.42 275.96L207.21 277.28L208.99 278.54L210.78 279.73L212.57 280.85L214.35 281.92L216.14 282.92L217.93 283.88L219.72 284.78L221.5 285.63L223.29 286.44L225.08 287.21L226.86 287.93L228.65 288.61L230.44 289.26L232.23 289.88L234.01 290.46L235.8 291.01L237.59 291.53L239.38 292.02L241.16 292.48L242.95 292.92L244.74 293.34L246.52 293.74L248.31 294.11L250.1 294.46L251.89 294.8L253.67 295.11L255.46 295.41L257.25 295.7L259.03 295.97L260.82 296.22L262.61 296.46L264.4 296.69L266.18 296.9L267.97 297.11L269.76 297.3L271.54 297.48L273.33 297.65" stroke="#c2ccc8" stroke-width="1.0" fill="none"/>
<path d="M166.1 217.5L167.89 219.91L169.67 222.26L171.46 224.53L173.25 226.74L175.04 228.89L176.82 230.97L178.61 232.99L180.4 234.96L182.18 236.86L183.97 238.71L185.76 240.51L187.55 242.26L189.33 243.95L191.12 245.6L192.91 247.2L194.7 248.75L196.48 250.25L198.27 251.72L200.06 253.14L201.84 254.52L203.63 255.86L205.42 257.16L207.21 258.42L208.99 259.65L210.78 260.84L212.57 261.99L214.35 263.12L216.14 264.21L217.93 265.27L219.72 266.29L221.5 267.29L223.29 268.26L225.08 269.2L226.86 270.11L228.65 271L230.44 271.86L232.23 272.7L234.01 273.51L235.8 274.3L237.59 275.07L239.38 275.81L241.16 276.53L242.95 277.23L244.74 277.91L246.52 278.57L248.31 279.22L250.1 279.84L251.89 280.44L253.67 281.03L255.46 281.6L257.25 282.16L259.03 282.69L260.82 283.22L262.61 283.72L264.4 284.22L266.18 284.69L267.97 285.16L269.76 285.61L271.54 286.05L273.33 286.47" stroke="#1a1a1a" stroke-width="1.15" fill="none"/>
<path d="M166.1 217.5L167.89 218.68L169.67 219.84L171.46 220.98L173.25 222.11L175.04 223.22L176.82 224.32L178.61 225.4L180.4 226.46L182.18 227.51L183.97 228.55L185.76 229.57L187.55 230.58L189.33 231.57L191.12 232.55L192.91 233.51L194.7 234.46L196.48 235.4L198.27 236.32L200.06 237.23L201.84 238.13L203.63 239.01L205.42 239.89L207.21 240.75L208.99 241.6L210.78 242.43L212.57 243.26L214.35 244.07L216.14 244.87L217.93 245.66L219.72 246.44L221.5 247.21L223.29 247.96L225.08 248.71L226.86 249.44L228.65 250.17L230.44 250.88L232.23 251.59L234.01 252.28L235.8 252.97L237.59 253.64L239.38 254.31L241.16 254.97L242.95 255.61L244.74 256.25L246.52 256.88L248.31 257.5L250.1 258.11L251.89 258.71L253.67 259.31L255.46 259.89L257.25 260.47L259.03 261.04L260.82 261.6L262.61 262.15L264.4 262.7L266.18 263.24L267.97 263.77L269.76 264.29L271.54 264.8L273.33 265.31" stroke="#c0559c" stroke-width="1.0" fill="none"/>
<path d="M166.1 217.5L167.89 218.32L169.67 219.13L171.46 219.93L173.25 220.72L175.04 221.51L176.82 222.29L178.61 223.06L180.4 223.82L182.18 224.57L183.97 225.32L185.76 226.06L187.55 226.8L189.33 227.52L191.12 228.24L192.91 228.95L194.7 229.66L196.48 230.36L198.27 231.05L200.06 231.73L201.84 232.41L203.63 233.08L205.42 233.74L207.21 234.4L208.99 235.05L210.78 235.7L212.57 236.34L214.35 236.97L216.14 237.6L217.93 238.22L219.72 238.83L221.5 239.44L223.29 240.04L225.08 240.64L226.86 241.23L228.65 241.81L230.44 242.39L232.23 242.96L234.01 243.53L235.8 244.09L237.59 244.65L239.38 245.2L241.16 245.74L242.95 246.28L244.74 246.82L246.52 247.35L248.31 247.87L250.1 248.39L251.89 248.9L253.67 249.41L255.46 249.92L257.25 250.42L259.03 250.91L260.82 251.4L262.61 251.88L264.4 252.36L266.18 252.84L267.97 253.31L269.76 253.77L271.54 254.24L273.33 254.69" stroke="#4242a8" stroke-width="1.0" fill="none"/>
<rect x="244.87" y="289.38" width="3.3" height="3.3" fill="#fff" stroke="#b4b4b4" stroke-width="0.8"/>
<rect x="271.68" y="290.31" width="3.3" height="3.3" fill="#fff" stroke="#b4b4b4" stroke-width="0.8"/>
<circle cx="179.5" cy="261.28" r="1.8" fill="#3f6a5c"/>
<circle cx="192.91" cy="272.72" r="1.8" fill="#3f6a5c"/>
<circle cx="219.72" cy="278.65" r="1.8" fill="#3f6a5c"/>
<circle cx="246.52" cy="285.52" r="1.8" fill="#3f6a5c"/>
<circle cx="273.33" cy="295.5" r="1.8" fill="#3f6a5c"/>
<path d="M179.5 238.49L177.76 242L181.25 242Z" fill="#1a1a1a"/>
<path d="M192.91 248.89L191.16 252.4L194.66 252.4Z" fill="#1a1a1a"/>
<path d="M219.72 259.29L217.97 262.8L221.46 262.8Z" fill="#1a1a1a"/>
<path d="M246.52 276.45L244.78 279.96L248.27 279.96Z" fill="#1a1a1a"/>
<path d="M273.33 285.08L271.58 288.6L275.08 288.6Z" fill="#1a1a1a"/>
<circle cx="192.91" cy="239.44" r="1.75" fill="#fff" stroke="#c04a8a" stroke-width="0.8"/>
<circle cx="219.72" cy="246.41" r="1.75" fill="#fff" stroke="#c04a8a" stroke-width="0.8"/>
<circle cx="246.52" cy="255.15" r="1.75" fill="#fff" stroke="#c04a8a" stroke-width="0.8"/>
<circle cx="273.33" cy="263.88" r="1.75" fill="#fff" stroke="#c04a8a" stroke-width="0.8"/>
<rect x="177.6" y="222.05" width="3.8" height="3.8" fill="#2e2e96"/>
<rect x="191.01" y="234.01" width="3.8" height="3.8" fill="#2e2e96"/>
<rect x="217.82" y="236.92" width="3.8" height="3.8" fill="#2e2e96"/>
<rect x="244.62" y="244.1" width="3.8" height="3.8" fill="#2e2e96"/>
<rect x="271.43" y="251.9" width="3.8" height="3.8" fill="#2e2e96"/>
<circle cx="166.1" cy="217.5" r="1.5" fill="#333"/>
<path d="M350.1 192.7H361.3" stroke="#f06070" stroke-width="0.9"/>
<path d="M355.8 194.08L354.42 191.69L357.18 191.69Z" fill="#c01030"/>
<text x="361.4" y="195.6" font-size="9.1" font-weight="normal" text-anchor="start" fill="#222">cA20</text>
<path d="M350.1 204.1H361.3" stroke="#111" stroke-width="0.8"/>
<path d="M355.8 202.58L354.47 205.26L357.13 205.26Z" fill="#000"/>
<text x="361.6" y="206.6" font-size="9.1" font-weight="normal" text-anchor="start" fill="#222">Rituximab</text>
<path d="M350.1 213.2H361.3" stroke="#6a6ad0" stroke-width="0.9"/>
<rect x="354.35" y="211.75" width="2.9" height="2.9" fill="#1a1a7a"/>
<text x="361.6" y="216.3" font-size="9.1" font-weight="normal" text-anchor="start" fill="#222">Veltuzumab</text>
<path d="M427.7 193.3H438.7" stroke="#3a7a5a" stroke-width="0.9"/>
<circle cx="434" cy="193.3" r="1.45" fill="#1a4a3a"/>
<text x="438.8" y="196.2" font-size="8.8" font-weight="normal" text-anchor="start" fill="#222">D101N</text>
<path d="M429.2 203.6H439.2" stroke="#e0a0d0" stroke-width="0.9"/>
<circle cx="433.7" cy="203.6" r="1.62" fill="#fff" stroke="#c050a0" stroke-width="0.8"/>
<text x="441.6" y="206.9" font-size="9.2" font-weight="normal" text-anchor="start" fill="#222">1F5</text>
<path d="M430.8 215.3H439.7" stroke="#bbb" stroke-width="0.9"/>
<rect x="432.3" y="213.5" width="3.6" height="3.6" fill="#fff" stroke="#aaa" stroke-width="0.8"/>
<text x="441.1" y="217.9" font-size="9.5" font-weight="normal" text-anchor="start" fill="#222">B1 (Tositumomab)</text>
<rect x="296.9" y="245.2" width="221.8" height="8.2" fill="#f1f1f1"/>
<rect x="296.9" y="253.4" width="221.8" height="16.9" fill="#e9e9e9"/>
<rect x="296.9" y="270.3" width="42.6" height="51.3" fill="#e7e7e7"/>
<rect x="339.5" y="270.3" width="179.2" height="51.3" fill="#fbfbfb"/>
<path d="M297.9 254.5H517.7M297.9 271.4H517.7M297.9 279.6H517.7M297.9 288.4H517.7M297.9 297.3H517.7M297.9 305.8H517.7M297.9 314.6H517.7M340.6 254.4V320.6M367.8 254.4V320.6M394.4 254.4V320.6M434.1 254.4V320.6M474.5 254.4V320.6M298.5 246.7V320.6M298.4 246.8H517.7" stroke="#fdfdfd" stroke-width="0.8" fill="none"/>
<path d="M296.9 253.4H518.7M296.9 278.5H518.7M296.9 287.3H518.7M296.9 296.2H518.7M296.9 304.7H518.7M296.9 313.5H518.7M339.5 253.4V321.6M366.7 253.4V321.6M393.3 253.4V321.6M433 253.4V321.6M473.4 253.4V321.6" stroke="#7a7a7a" stroke-width="0.9" fill="none"/>
<path d="M296.9 270.3H518.7M296.9 313.5H518.7M296.9 296.2H518.7" stroke="#3a3a3a" stroke-width="1.1" fill="none"/>
<path d="M296.9 245.2H518.7M518.7 321.6H296.9" stroke="#3a3a3a" stroke-width="1.3" fill="none"/>
<path d="M518.7 245.2V321.6" stroke="#707070" stroke-width="1.1" fill="none"/>
<path d="M296.9 244.6V322.2" stroke="#6a6a6a" stroke-width="1.6" fill="none"/>
<text transform="translate(408.4 251.9) scale(0.99 1.03)" font-size="7.0" font-weight="bold" text-anchor="middle" fill="#222" stroke-width="0.34" font-family='"Liberation Serif", serif'>Dissociation Rates (T <tspan font-size="4" dy="1.5">1/2</tspan><tspan dy="-1.5"> Min)</tspan></text>
<text transform="translate(353.1 265) scale(1 1.01)" font-size="7.1" font-weight="bold" text-anchor="middle" fill="#222" stroke-width="0.34" font-family='"Liberation Serif", serif'>Daudi</text>
<text transform="translate(380 265) scale(1 1.01)" font-size="7.1" font-weight="bold" text-anchor="middle" fill="#222" stroke-width="0.34" font-family='"Liberation Serif", serif'>Ramos</text>
<text transform="translate(413.15 265) scale(1 1.01)" font-size="7.1" font-weight="bold" text-anchor="middle" fill="#222" stroke-width="0.34" font-family='"Liberation Serif", serif'>Raji (exp 1)</text>
<text transform="translate(453.2 265) scale(1 1.01)" font-size="7.1" font-weight="bold" text-anchor="middle" fill="#222" stroke-width="0.34" font-family='"Liberation Serif", serif'>Raji (exp 2)</text>
<text transform="translate(496.05 260.8) scale(1 1.01)" font-size="7.1" font-weight="bold" text-anchor="middle" fill="#222" stroke-width="0.34" font-family='"Liberation Serif", serif'>Raji without</text>
<text transform="translate(496.05 268.2) scale(1 1.01)" font-size="7.1" font-weight="bold" text-anchor="middle" fill="#222" stroke-width="0.34" font-family='"Liberation Serif", serif'>competition</text>
<text transform="translate(318.2 276.9) scale(1 1.01)" font-size="7.1" font-weight="bold" text-anchor="middle" fill="#222" stroke-width="0.34" font-family='"Liberation Serif", serif'>Veltuzumab</text>
<text transform="translate(353.1 276.9) scale(1 1.01)" font-size="7.1" font-weight="bold" text-anchor="middle" fill="#222" stroke-width="0.34" font-family='"Liberation Serif", serif'>54.4</text>
<text transform="translate(380 276.9) scale(1 1.01)" font-size="7.1" font-weight="bold" text-anchor="middle" fill="#222" stroke-width="0.34" font-family='"Liberation Serif", serif'>57.0</text>
<text transform="translate(413.15 276.9) scale(1 1.01)" font-size="7.1" font-weight="bold" text-anchor="middle" fill="#222" stroke-width="0.34" font-family='"Liberation Serif", serif'>59.1</text>
<text transform="translate(453.2 276.9) scale(1 1.01)" font-size="7.1" font-weight="bold" text-anchor="middle" fill="#222" stroke-width="0.34" font-family='"Liberation Serif", serif'>61.8</text>
<text transform="translate(496.05 276.9) scale(1 1.01)" font-size="7.1" font-weight="bold" text-anchor="middle" fill="#222" stroke-width="0.34" font-family='"Liberation Serif", serif'>280.8</text>
<text transform="translate(318.2 285.7) scale(1 1.01)" font-size="7.1" font-weight="bold" text-anchor="middle" fill="#222" stroke-width="0.34" font-family='"Liberation Serif", serif'>cA20</text>
<text transform="translate(353.1 285.7) scale(1 1.01)" font-size="7.1" font-weight="bold" text-anchor="middle" fill="#222" stroke-width="0.34" font-family='"Liberation Serif", serif'>58.8</text>
<text transform="translate(380 285.7) scale(1 1.01)" font-size="7.1" font-weight="bold" text-anchor="middle" fill="#222" stroke-width="0.34" font-family='"Liberation Serif", serif'>54.8</text>
<text transform="translate(413.15 285.7) scale(1 1.01)" font-size="7.1" font-weight="bold" text-anchor="middle" fill="#222" stroke-width="0.34" font-family='"Liberation Serif", serif'>62.0</text>
<rect x="452.4" y="283.5" width="1.6" height="0.9" fill="#555"/>
<rect x="495.25" y="283.5" width="1.6" height="0.9" fill="#555"/>
<text transform="translate(318.2 294.6) scale(1 1.01)" font-size="7.1" font-weight="bold" text-anchor="middle" fill="#222" stroke-width="0.34" font-family='"Liberation Serif", serif'>Rituximab</text>
<text transform="translate(353.1 294.6) scale(1 1.01)" font-size="7.1" font-weight="bold" text-anchor="middle" fill="#222" stroke-width="0.34" font-family='"Liberation Serif", serif'>20.1</text>
<text transform="translate(380 294.6) scale(1 1.01)" font-size="7.1" font-weight="bold" text-anchor="middle" fill="#222" stroke-width="0.34" font-family='"Liberation Serif", serif'>19.0</text>
<text transform="translate(413.15 294.6) scale(1 1.01)" font-size="7.1" font-weight="bold" text-anchor="middle" fill="#222" stroke-width="0.34" font-family='"Liberation Serif", serif'>24.3</text>
<text transform="translate(453.2 294.6) scale(1 1.01)" font-size="7.1" font-weight="bold" text-anchor="middle" fill="#222" stroke-width="0.34" font-family='"Liberation Serif", serif'>21.4</text>
<text transform="translate(496.05 294.6) scale(1 1.01)" font-size="7.1" font-weight="bold" text-anchor="middle" fill="#222" stroke-width="0.34" font-family='"Liberation Serif", serif'>94.2</text>
<text transform="translate(318.2 303.1) scale(1 1.01)" font-size="7.1" font-weight="bold" text-anchor="middle" fill="#222" stroke-width="0.34" font-family='"Liberation Serif", serif'>D101N</text>
<rect x="352.3" y="300.9" width="1.6" height="0.9" fill="#555"/>
<rect x="379.2" y="300.9" width="1.6" height="0.9" fill="#555"/>
<rect x="412.35" y="300.9" width="1.6" height="0.9" fill="#555"/>
<text transform="translate(453.2 303.1) scale(1 1.01)" font-size="7.1" font-weight="bold" text-anchor="middle" fill="#222" stroke-width="0.34" font-family='"Liberation Serif", serif'>9.4</text>
<text transform="translate(496.05 303.1) scale(1 1.01)" font-size="7.1" font-weight="bold" text-anchor="middle" fill="#222" stroke-width="0.34" font-family='"Liberation Serif", serif'>42.1</text>
<text transform="translate(318.2 311.9) scale(1 1.01)" font-size="7.1" font-weight="bold" text-anchor="middle" fill="#222" stroke-width="0.34" font-family='"Liberation Serif", serif'>1F5</text>
<rect x="352.3" y="309.7" width="1.6" height="0.9" fill="#555"/>
<rect x="379.2" y="309.7" width="1.6" height="0.9" fill="#555"/>
<rect x="412.35" y="309.7" width="1.6" height="0.9" fill="#555"/>
<rect x="452.4" y="309.7" width="1.6" height="0.9" fill="#555"/>
<text transform="translate(496.05 311.9) scale(1 1.01)" font-size="7.1" font-weight="bold" text-anchor="middle" fill="#222" stroke-width="0.34" font-family='"Liberation Serif", serif'>194.6</text>
<text transform="translate(318.2 320) scale(1 1.01)" font-size="7.1" font-weight="bold" text-anchor="middle" fill="#222" stroke-width="0.34" font-family='"Liberation Serif", serif'>B1</text>
<rect x="352.3" y="317.8" width="1.6" height="0.9" fill="#555"/>
<rect x="379.2" y="317.8" width="1.6" height="0.9" fill="#555"/>
<rect x="412.35" y="317.8" width="1.6" height="0.9" fill="#555"/>
<rect x="452.4" y="317.8" width="1.6" height="0.9" fill="#555"/>
<text transform="translate(496.05 320) scale(1 1.01)" font-size="7.1" font-weight="bold" text-anchor="middle" fill="#222" stroke-width="0.34" font-family='"Liberation Serif", serif'>50.3</text>
</svg></body></html>
